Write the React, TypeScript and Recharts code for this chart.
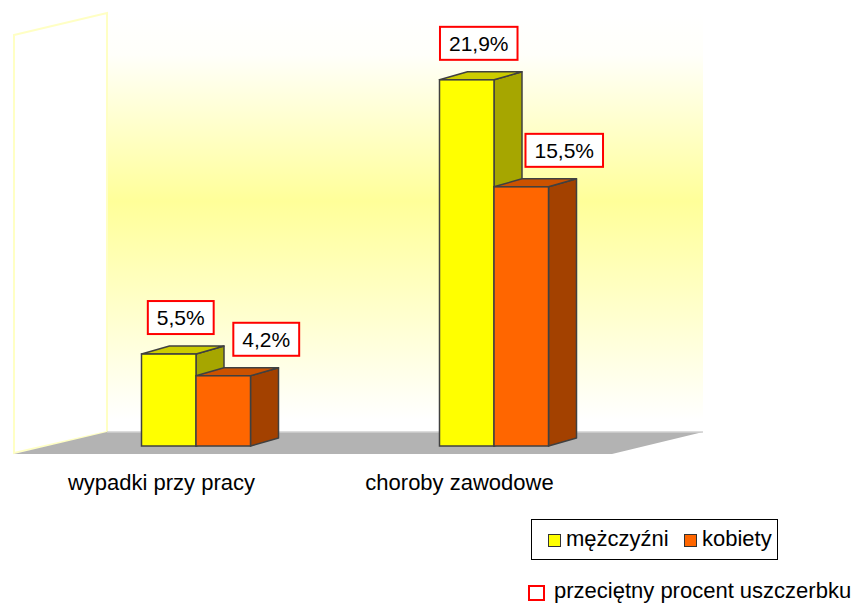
import React from 'react';
import { BarChart, Bar, XAxis, YAxis, LabelList } from 'recharts';

const categories = ['wypadki przy pracy', 'choroby zawodowe'];
const menValues = [5.5, 21.9];
const womenValues = [4.2, 15.5];
const seriesNames = ['mężczyźni', 'kobiety'];
const footnote = 'przeciętny procent uszczerbku';
const yDomain = [0, 25];

const FONT = '"Liberation Sans", Arial, sans-serif';
const W = 861;
const H = 605;
const AXIS_H = 40;
const margin = { top: 28, right: 218.5, bottom: 119, left: 46.5 };
const DX = 28;
const DY = 8;

const MEN = { front: '#ffff00', top: '#cccc00', side: '#a6a600' };
const WOMEN = { front: '#ff6600', top: '#cc5200', side: '#a34100' };

const data = categories.map((name, i) => ({
  name,
  men: menValues[i],
  women: womenValues[i]
}));

function fmt(v: number) {
  return `${v.toFixed(1).replace('.', ',')}%`;
}

// rough text width for Arial-like digits
function textWidth(s: string, size: number) {
  let w = 0;
  for (const ch of s) {
    if (ch === ',' || ch === '.') w += 0.278;
    else if (ch === '%') w += 0.889;
    else w += 0.556;
  }
  return w * size;
}

// ── 3D box bar ───────────────────────────────────────────────────────────────
function Box3D(props: any) {
  const { x, y, width, height, colors } = props;
  if (height == null || height <= 0) return null;
  const stroke = '#404040';
  return (
    <g>
      <polygon
        points={`${x + width},${y} ${x + width + DX},${y - DY} ${x + width + DX},${y + height - DY} ${x + width},${y + height}`}
        fill={colors.side}
        stroke={stroke}
        strokeWidth={1.5}
        strokeLinejoin="round"
      />
      <polygon
        points={`${x},${y} ${x + DX},${y - DY} ${x + width + DX},${y - DY} ${x + width},${y}`}
        fill={colors.top}
        stroke={stroke}
        strokeWidth={1.5}
        strokeLinejoin="round"
      />
      <rect x={x} y={y} width={width} height={height} fill={colors.front} stroke={stroke} strokeWidth={1.5} />
    </g>
  );
}

// ── value label in red box ───────────────────────────────────────────────────
function ValueBox(props: any) {
  const { x, y, width, value, shift } = props;
  const label = fmt(Number(value));
  const size = 21;
  const bw = textWidth(label, size) + 18;
  const bh = 33;
  const cx = x + width / 2 + shift;
  const bottom = y - 20;
  return (
    <g>
      <rect x={cx - bw / 2} y={bottom - bh} width={bw} height={bh} fill="#ffffff" stroke="#ff0000" strokeWidth={2} />
      <text x={cx} y={bottom - 9} textAnchor="middle" fontSize={size} fontFamily={FONT} fill="#000000">
        {label}
      </text>
    </g>
  );
}

function CategoryTick(props: any) {
  const { x, y, payload } = props;
  return (
    <text x={x - 34} y={y} dy={44} textAnchor="middle" fontSize={22} fontFamily={FONT} fill="#000000">
      {payload.value}
    </text>
  );
}

// ── walls + floor behind the plot ────────────────────────────────────────────
function Backdrop() {
  return (
    <svg width={W} height={H} style={{ position: 'absolute', left: 0, top: 0 }}>
      <defs>
        <linearGradient id="wallFill" x1="0" y1="0" x2="0" y2="1">
          <stop offset="0" stopColor="#ffffff" />
          <stop offset="0.1" stopColor="#fffffa" />
          <stop offset="0.45" stopColor="#ffff99" />
          <stop offset="0.97" stopColor="#ffffff" />
        </linearGradient>
      </defs>
      <rect x={107} y={13} width={596} height={419} fill="url(#wallFill)" />
      <polygon points="14,35 107,13 107,432 14,453" fill="#ffffff" stroke="#ffffc4" strokeWidth={2} />
      <polygon points="107,432 703,432 612,454 14,454" fill="#b3b3b3" />
      <line x1={107} y1={432} x2={703} y2={432} stroke="#d0d0d0" strokeWidth={1.5} />
    </svg>
  );
}

function LegendBlock() {
  const colors = [MEN.front, WOMEN.front];
  const lefts = [16, 152];
  return (
    <>
      <div
        style={{
          position: 'absolute', left: 531, top: 519, width: 247, height: 41,
          border: '1px solid #000', boxSizing: 'border-box', background: '#fff',
          fontFamily: FONT, fontSize: 22, color: '#000'
        }}
      >
        {seriesNames.map((name, i) => (
          <div key={name} style={{ position: 'absolute', left: lefts[i], top: 6, display: 'flex', alignItems: 'center', whiteSpace: 'nowrap' }}>
            <span style={{ display: 'inline-block', width: 11, height: 11, background: colors[i], border: '1px solid #333', marginRight: 5, marginTop: 3 }} />
            <span style={{ lineHeight: '26px' }}>{name}</span>
          </div>
        ))}
      </div>
      <div style={{ position: 'absolute', left: 528, top: 578, display: 'flex', alignItems: 'center', whiteSpace: 'nowrap', fontFamily: FONT, fontSize: 22, color: '#000' }}>
        <span style={{ display: 'inline-block', width: 13, height: 12, border: '2px solid #ff0000', marginRight: 9, marginTop: 3 }} />
        <span style={{ lineHeight: '26px' }}>{footnote}</span>
      </div>
    </>
  );
}

export default function App() {
  return (
    <div style={{ position: 'absolute', left: 0, top: 0, width: W, height: H, overflow: 'hidden', background: '#fff' }}>
      <Backdrop />
      <div style={{ position: 'absolute', left: 0, top: 0 }}>
        <BarChart width={W} height={H} data={data} margin={margin} barSize={54.5} barGap={0}>
          <XAxis
            dataKey="name"
            height={AXIS_H}
            axisLine={false}
            tickLine={false}
            tickSize={0}
            tickMargin={0}
            interval={0}
            tick={<CategoryTick />}
          />
          <YAxis hide domain={yDomain} />
          <Bar dataKey="men" isAnimationActive={false} shape={(p: any) => <Box3D {...p} colors={MEN} />}>
            <LabelList dataKey="men" content={(p: any) => <ValueBox {...p} shift={12} />} />
          </Bar>
          <Bar dataKey="women" isAnimationActive={false} shape={(p: any) => <Box3D {...p} colors={WOMEN} />}>
            <LabelList dataKey="women" content={(p: any) => <ValueBox {...p} shift={43} />} />
          </Bar>
        </BarChart>
      </div>
      <LegendBlock />
    </div>
  );
}
